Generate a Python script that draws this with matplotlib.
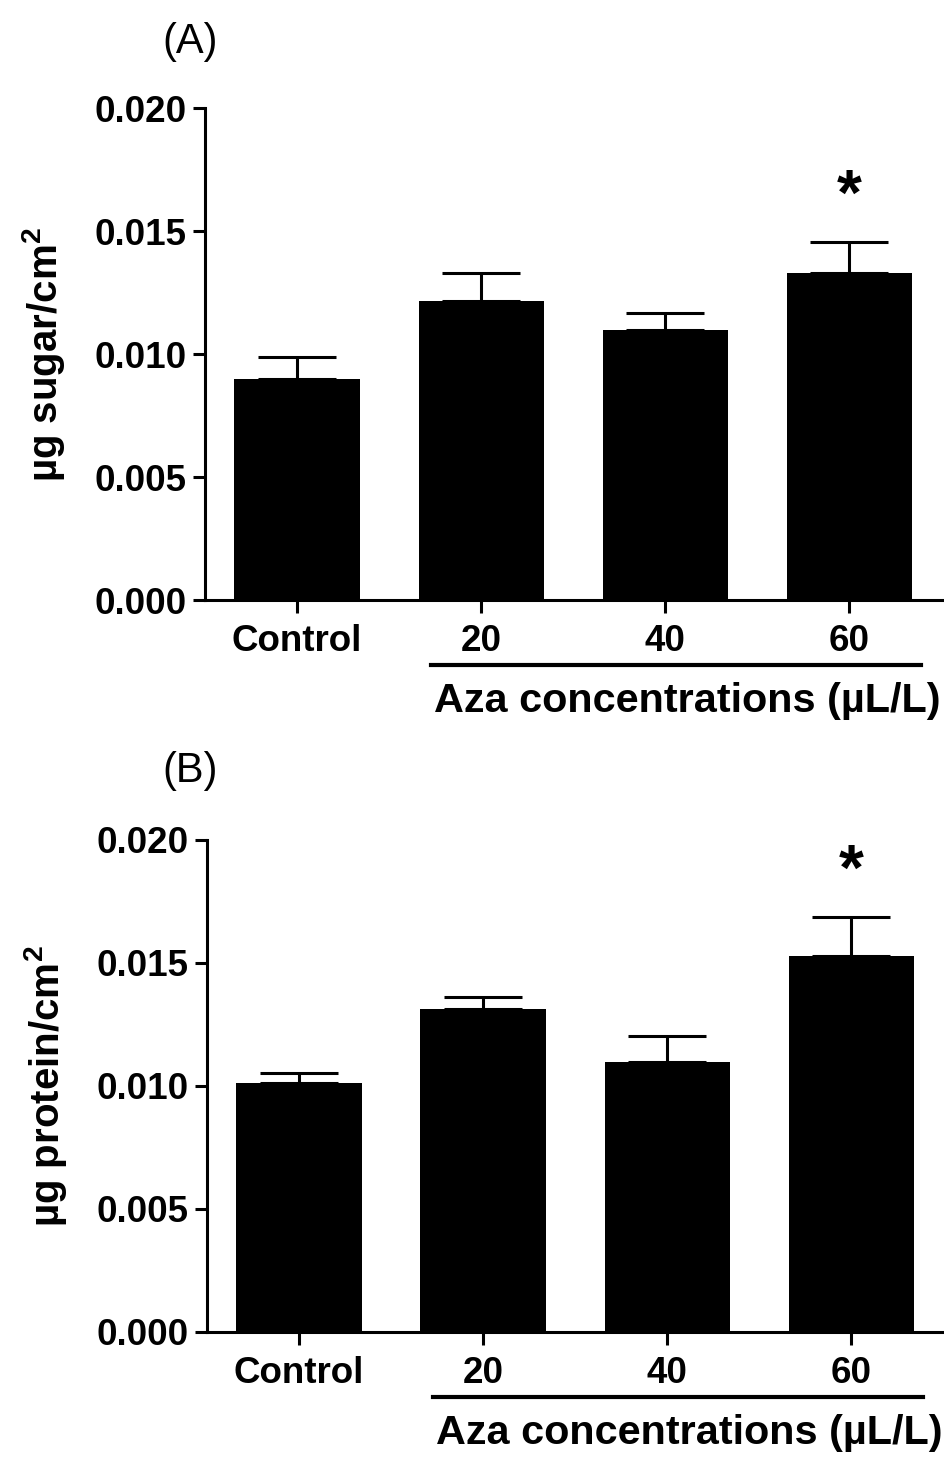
import numpy as np
import matplotlib.pyplot as plt
import matplotlib.transforms as mtransforms

plt.rcParams['font.family'] = ['Liberation Sans', 'DejaVu Sans']
plt.rcParams['mathtext.fontset'] = 'custom'
plt.rcParams['mathtext.rm'] = 'Liberation Sans'
plt.rcParams['mathtext.bf'] = 'Liberation Sans:bold'

# data
groups = ['Control', '20', '40', '60']
sugar = [0.00898, 0.01215, 0.01098, 0.01329]
sugar_err = [0.00090, 0.00114, 0.00069, 0.00126]
protein = [0.01014, 0.01313, 0.01098, 0.01530]
protein_err = [0.00040, 0.00050, 0.00107, 0.00155]
signif = [False, False, False, True]
yticks = [0.000, 0.005, 0.010, 0.015, 0.020]

fig = plt.figure(figsize=(9.44, 14.6), dpi=100)

panels = [
    ('(A)', sugar, sugar_err, r'µg sugar/cm$^{\mathbf{2}}$', [0.2172, 0.5890, 0.7829, 0.3370], 0.971),
    ('(B)', protein, protein_err, r'µg protein/cm$^{\mathbf{2}}$', [0.2193, 0.0877, 0.7829, 0.3370], 0.472),
]

for tag, vals, errs, ylab, rect, tag_y in panels:
    ax = fig.add_axes(rect)
    x = np.arange(len(groups))
    ax.bar(x, vals, width=0.68, color='black', zorder=2)
    ax.errorbar(x, vals, yerr=[np.zeros(len(errs)), errs], fmt='none',
                ecolor='black', elinewidth=2.2, capsize=28, capthick=2.2, zorder=1)
    for xi, v, e, s in zip(x, vals, errs, signif):
        if s:
            ax.text(xi, v + e + 0.0018, '*', ha='center', va='center',
                    fontsize=46, fontweight='bold')
    ax.set_xlim(-0.5, 3.516)
    ax.set_ylim(0, 0.020)
    ax.set_yticks(yticks)
    ax.set_yticklabels(['%.3f' % t for t in yticks])
    ax.set_xticks(x)
    ax.set_xticklabels(groups)
    for lab in ax.get_xticklabels() + ax.get_yticklabels():
        lab.set_fontsize(26.5)
        lab.set_fontweight('bold')
    ax.tick_params(axis='both', direction='out', length=9, width=2.2)
    ax.tick_params(axis='y', pad=4)
    ax.tick_params(axis='x', pad=8)
    ax.spines['top'].set_visible(False)
    ax.spines['right'].set_visible(False)
    ax.spines['left'].set_linewidth(2.2)
    ax.spines['bottom'].set_linewidth(2.2)
    ax.set_ylabel(ylab, fontsize=29, fontweight='bold', labelpad=20)

    trans = mtransforms.blended_transform_factory(ax.transData, ax.transAxes)
    ax.plot([0.73, 3.39], [-0.133, -0.133], color='black', lw=3,
            transform=trans, clip_on=False)
    ax.text(2.12, -0.205, 'Aza concentrations (µL/L)', transform=trans,
            ha='center', va='center', fontsize=29.8, fontweight='bold')

    fig.text(0.201, tag_y, tag, ha='center', va='center', fontsize=30)

fig.savefig('out.png', dpi=100)
